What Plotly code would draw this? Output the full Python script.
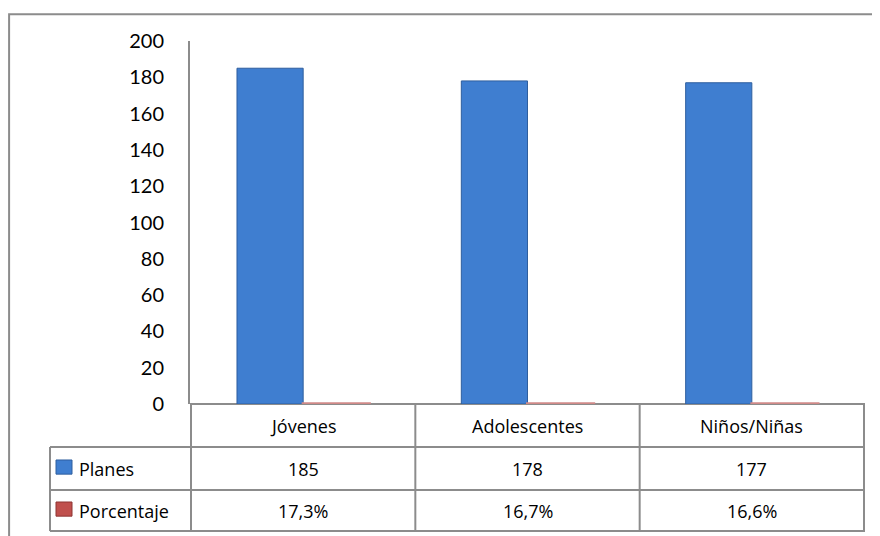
import plotly.graph_objects as go

# ----------------------------------------------------------------------------
# Data
# ----------------------------------------------------------------------------
categories = ["Jóvenes", "Adolescentes", "Niños/Niñas"]
planes = [185, 178, 177]
porcentaje = [0.173, 0.167, 0.166]
porcentaje_labels = ["17,3%", "16,7%", "16,6%"]
series_names = ["Planes", "Porcentaje"]
y_ticks = [0, 20, 40, 60, 80, 100, 120, 140, 160, 180, 200]

BLUE = "#3F7ED0"
BLUE_EDGE = "#2E5E9E"
RED = "#C0504D"
GRID = "#8C8C8C"
FONT = "Lato"
TABLE_FONT = dict(family="Open Sans", size=18, color="black")

# table geometry (paper coords, y below the plot area)
row_edges = [0, -0.1185, -0.237, -0.350]
left_col = -0.2074

fig = go.Figure()

fig.add_trace(go.Bar(
    x=categories, y=planes, name=series_names[0],
    marker=dict(color=BLUE, line=dict(color=BLUE_EDGE, width=1)),
))
fig.add_trace(go.Bar(
    x=categories, y=porcentaje, name=series_names[1],
    marker=dict(color=RED, line=dict(color="#D08A88", width=3)),
))

shapes = []
annotations = []

# horizontal table lines
for i, ye in enumerate(row_edges):
    shapes.append(dict(
        type="line", xref="paper", yref="paper",
        x0=0 if i < 1 else left_col, x1=1, y0=ye, y1=ye,
        line=dict(color=GRID, width=2), layer="below",
    ))

# vertical table lines at category boundaries
for k in range(len(categories) + 1):
    shapes.append(dict(
        type="line", xref="x", yref="paper",
        x0=k - 0.5, x1=k - 0.5, y0=row_edges[0], y1=row_edges[-1],
        line=dict(color=GRID, width=2),
    ))
# left column border
shapes.append(dict(
    type="line", xref="paper", yref="paper",
    x0=left_col, x1=left_col, y0=row_edges[1], y1=row_edges[-1],
    line=dict(color=GRID, width=2),
))

# outer chart border (runs off the right and bottom of the picture)
shapes.append(dict(
    type="rect", xref="paper", yref="paper",
    x0=-0.268, x1=1.12, y0=-0.42, y1=1.074,
    line=dict(color=GRID, width=2), layer="below",
))


def row_mid(r):
    return (row_edges[r] + row_edges[r + 1]) / 2


# table text
for i, cat in enumerate(categories):
    for r, txt in enumerate([cat, str(planes[i]), porcentaje_labels[i]]):
        annotations.append(dict(x=cat, y=row_mid(r), xref="x", yref="paper",
                                text=txt, showarrow=False, font=TABLE_FONT,
                                xanchor="center", yanchor="middle"))

# legend keys inside the table
for r, (name, col, edge) in enumerate(zip(series_names, [BLUE, RED], [BLUE_EDGE, "#8E3532"])):
    yc = row_mid(r + 1) + 0.004
    shapes.append(dict(
        type="rect", xref="paper", yref="paper",
        x0=-0.1985, x1=-0.1748, y0=yc - 0.0195, y1=yc + 0.0195,
        fillcolor=col, line=dict(color=edge, width=1),
    ))
    annotations.append(dict(x=-0.168, y=row_mid(r + 1), xref="paper", yref="paper",
                            text=name, showarrow=False, font=TABLE_FONT,
                            xanchor="left", yanchor="middle"))

# the page body adds an 8px offset, so the figure is 8px smaller
fig.update_layout(
    width=872, height=528,
    margin=dict(l=182, r=15, t=33, b=132),
    paper_bgcolor="white", plot_bgcolor="white",
    font=dict(family=FONT, size=20, color="black"),
    showlegend=False,
    barmode="group", bargap=0.41, bargroupgap=0,
    xaxis=dict(showticklabels=False, showgrid=False, zeroline=False,
               showline=False, ticks=""),
    yaxis=dict(range=[0, 200], tickvals=y_ticks, showgrid=False,
               zeroline=False, showline=True, linecolor=GRID, linewidth=2,
               ticks="", ticklabelstandoff=20),
    shapes=shapes,
    annotations=annotations,
)

fig.write_html("out.html")
